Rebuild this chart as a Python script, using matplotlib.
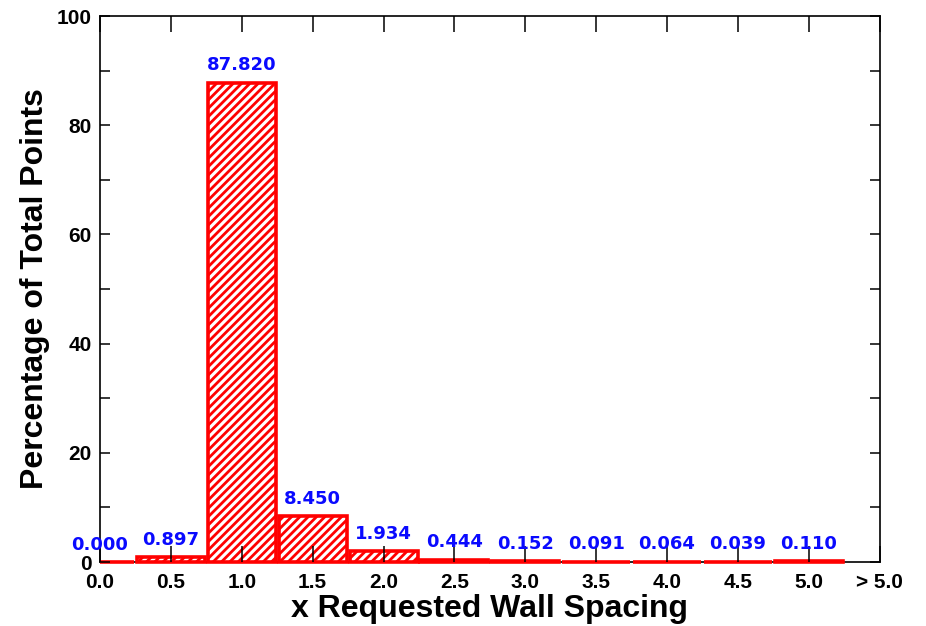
''' Histogram of requested wall spacing
Percentage of total points in each spacing bin, with values on top of bars'''

import matplotlib.pyplot as plt
from matplotlib.ticker import MultipleLocator
from matplotlib.transforms import Bbox, TransformedBbox

# bins (x requested wall spacing) and percentage of total points
spacing = [0.0, 0.5, 1.0, 1.5, 2.0, 2.5, 3.0, 3.5, 4.0, 4.5, 5.0]
percent = [0.000, 0.897, 87.820, 8.450, 1.934, 0.444, 0.152, 0.091, 0.064, 0.039, 0.110]
tick_pos = [0.0, 0.5, 1.0, 1.5, 2.0, 2.5, 3.0, 3.5, 4.0, 4.5, 5.0, 5.5]
tick_labels = ['0.0', '0.5', '1.0', '1.5', '2.0', '2.5', '3.0', '3.5', '4.0', '4.5', '5.0', '> 5.0']

plt.rcParams['hatch.color'] = 'red'
plt.rcParams['hatch.linewidth'] = 2.0
plt.rcParams['font.family'] = ['Liberation Sans', 'DejaVu Sans']

fig = plt.figure(figsize=(9.26, 6.26), dpi=100)
ax = fig.add_axes([0.108, 0.1022, 0.842, 0.8722])

bars = ax.bar(spacing, percent, width=0.48, color='white', edgecolor='red',
              linewidth=2.6, hatch='////', zorder=3)
# bars are cut only by the left frame (first bar sits on x=0)
clip = TransformedBbox(Bbox([[0, -0.05], [1.1, 1]]), ax.transAxes)
for b in bars:
    b.set_clip_box(clip)
ax.xaxis.set_zorder(4)
ax.yaxis.set_zorder(4)

# value labels above each bar
for x, v in zip(spacing, percent):
    ax.annotate('%.3f' % v, (x, v), xytext=(0, 6), textcoords='offset points',
                ha='center', va='bottom', color='#0a0aff', fontsize=13,
                fontweight='bold', family='DejaVu Sans', annotation_clip=False,
                zorder=5)

ax.set_xlim(0, 5.5)
ax.set_ylim(0, 100)
ax.set_xticks(tick_pos)
ax.set_xticklabels(tick_labels)
ax.yaxis.set_major_locator(MultipleLocator(20))
ax.yaxis.set_minor_locator(MultipleLocator(10))

ax.tick_params(axis='x', which='major', direction='in', length=11.5, width=1.1,
               top=True, bottom=True, pad=8, labelsize=15)
ax.tick_params(axis='y', which='both', direction='in', length=7, width=1.1,
               left=True, right=True, pad=6, labelsize=15)
for lab in ax.get_xticklabels() + ax.get_yticklabels():
    lab.set_fontweight('bold')

for s in ax.spines.values():
    s.set_linewidth(1.2)
    s.set_color('black')

ax.set_xlabel('x Requested Wall Spacing', fontsize=23, fontweight='bold', labelpad=1)
ax.set_ylabel('Percentage of Total Points', fontsize=23, fontweight='bold', labelpad=5)

fig.savefig('out.png', dpi=100)
